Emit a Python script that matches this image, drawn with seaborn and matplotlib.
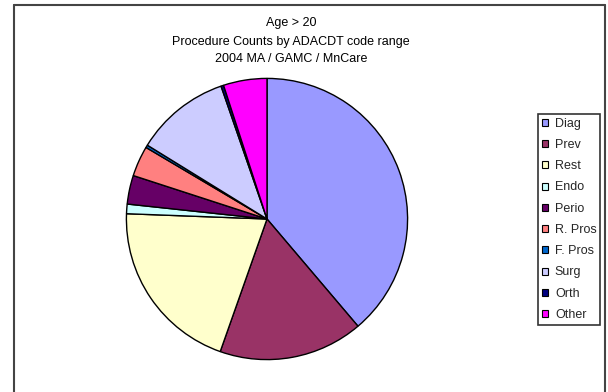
import matplotlib
matplotlib.use("Agg")
import matplotlib.pyplot as plt
from matplotlib.patches import Patch
from matplotlib.lines import Line2D
import seaborn as sns

# Procedure share by ADA CDT code range (percent of counts)
categories = ["Diag", "Prev", "Rest", "Endo", "Perio", "R. Pros", "F. Pros", "Surg", "Orth", "Other"]
shares = [38.8, 16.6, 20.2, 1.1, 3.3, 3.5, 0.3, 10.9, 0.3, 5.0]
colors = ["#9999FF", "#993366", "#FFFFCC", "#CCFFFF", "#660066",
          "#FF8080", "#0066CC", "#CCCCFF", "#000080", "#FF00FF"]
title_lines = ["Age > 20", "Procedure Counts by ADACDT code range", "2004 MA / GAMC / MnCare"]

sns.set_theme(style="white")
plt.rcParams["font.family"] = ["Liberation Sans", "DejaVu Sans"]

W, H = 608, 392
fig = plt.figure(figsize=(W / 100, H / 100), dpi=100)
fig.patch.set_facecolor("white")

# pie area: centre (267, 219) px, radius 142 px
cx, cy, r = 267, 219, 142
ax = fig.add_axes([(cx - r) / W, (H - cy - r) / H, 2 * r / W, 2 * r / H])
ax.pie(shares, colors=colors, startangle=90, counterclock=False,
       wedgeprops=dict(edgecolor="black", linewidth=1.0))
ax.set_xlim(-1.01, 1.01)
ax.set_ylim(-1.01, 1.01)
ax.set_aspect("equal")
ax.axis("off")

# title block
for y, line in zip([23, 42, 59], title_lines):
    fig.text(291 / W, 1 - y / H, line, ha="center", va="center", fontsize=9, color="black")

# legend
handles = [Patch(facecolor=c, edgecolor="black", linewidth=0.8) for c in colors]
leg = fig.legend(handles, categories, loc="upper left",
                 bbox_to_anchor=(538 / W, 1 - 114 / H), fontsize=9,
                 frameon=True, fancybox=False, shadow=False,
                 handlelength=0.5, handleheight=0.5, handletextpad=0.55,
                 labelspacing=0.74, borderpad=0.3, borderaxespad=0)
leg.get_frame().set_edgecolor("black")
leg.get_frame().set_linewidth(1.2)

# chart-area border
edge = "#444444"
fig.add_artist(Line2D([13.5 / W, 13.5 / W], [0, 1 - 4.5 / H], transform=fig.transFigure, color=edge, lw=1.5))
fig.add_artist(Line2D([13.5 / W, 604.5 / W], [1 - 4.5 / H, 1 - 4.5 / H], transform=fig.transFigure, color=edge, lw=1.5))
fig.add_artist(Line2D([604.5 / W, 604.5 / W], [0, 1 - 4.5 / H], transform=fig.transFigure, color=edge, lw=1.5))

fig.savefig("out.png", dpi=100)
